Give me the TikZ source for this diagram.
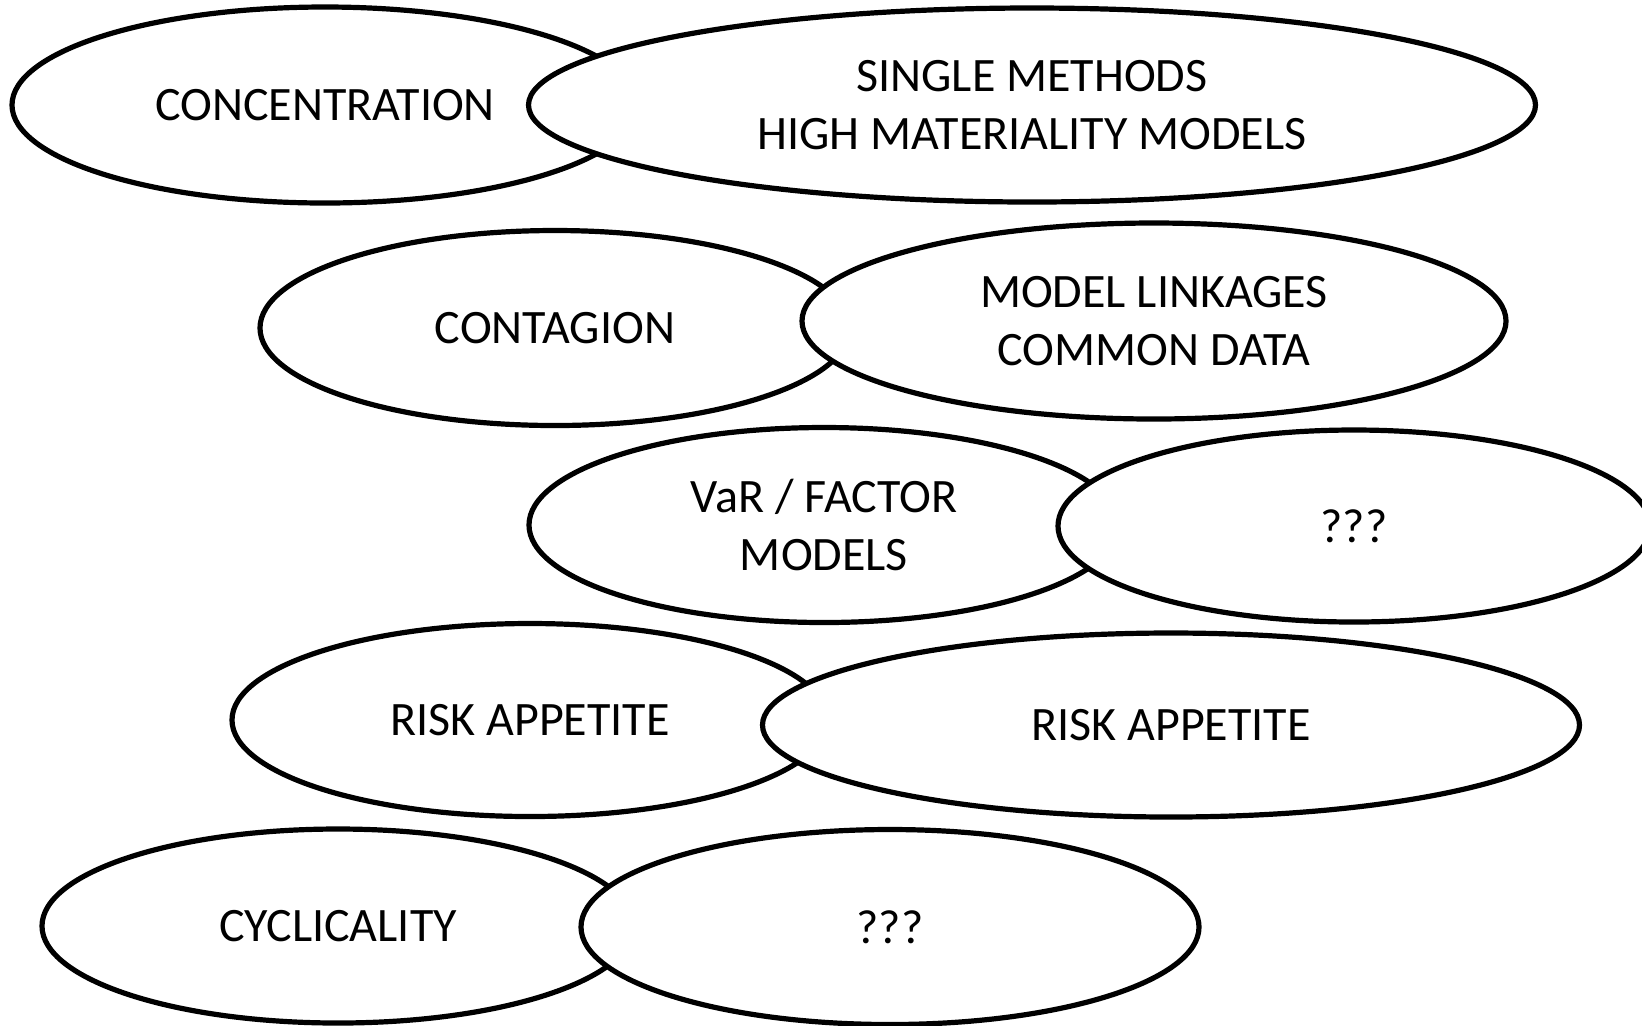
\documentclass[tikz,border=0pt]{standalone}
\usepackage{fontspec}
\setmainfont{Carlito}
\usetikzlibrary{shapes.geometric,positioning}
\tikzset{blob/.style={ellipse, draw, line width=2.6pt, fill=white, inner sep=0pt,
  align=center, font=\fontsize{24}{29}\selectfont}}

\begin{document}
\begin{tikzpicture}[x=0.5pt,y=-0.5pt]
\useasboundingbox (0,0) rectangle (1642,1025);
% first row
\node[blob, minimum width=313pt, minimum height=98pt] (concentration) at (325,105) {CONCENTRATION};
\node[blob, minimum width=503.5pt, minimum height=97pt] (single) at (1032,105) {SINGLE METHODS\\HIGH MATERIALITY MODELS};
% second row
\node[blob, minimum width=295pt, minimum height=97.5pt] (contagion) at (555,328) {CONTAGION};
\node[blob, minimum width=352pt, minimum height=98pt] (linkages) at (1154,321) {MODEL LINKAGES\\COMMON DATA};
% third row
\node[blob, minimum width=295pt, minimum height=97.5pt] (var) at (824,525) {VaR / FACTOR\\MODELS};
\node[blob, minimum width=296pt, minimum height=96pt] (unknownA) at (1354,526) {???};
% fourth row
\node[blob, minimum width=298pt, minimum height=96.5pt] (appetiteA) at (530,720) {RISK APPETITE};
\node[blob, minimum width=408.5pt, minimum height=92pt] (appetiteB) at (1171,725) {RISK APPETITE};
% fifth row
\node[blob, minimum width=296pt, minimum height=97pt] (cyclicality) at (338,926) {CYCLICALITY};
\node[blob, minimum width=309pt, minimum height=97.5pt] (unknownB) at (890,927) {???};
\end{tikzpicture}
\end{document}
